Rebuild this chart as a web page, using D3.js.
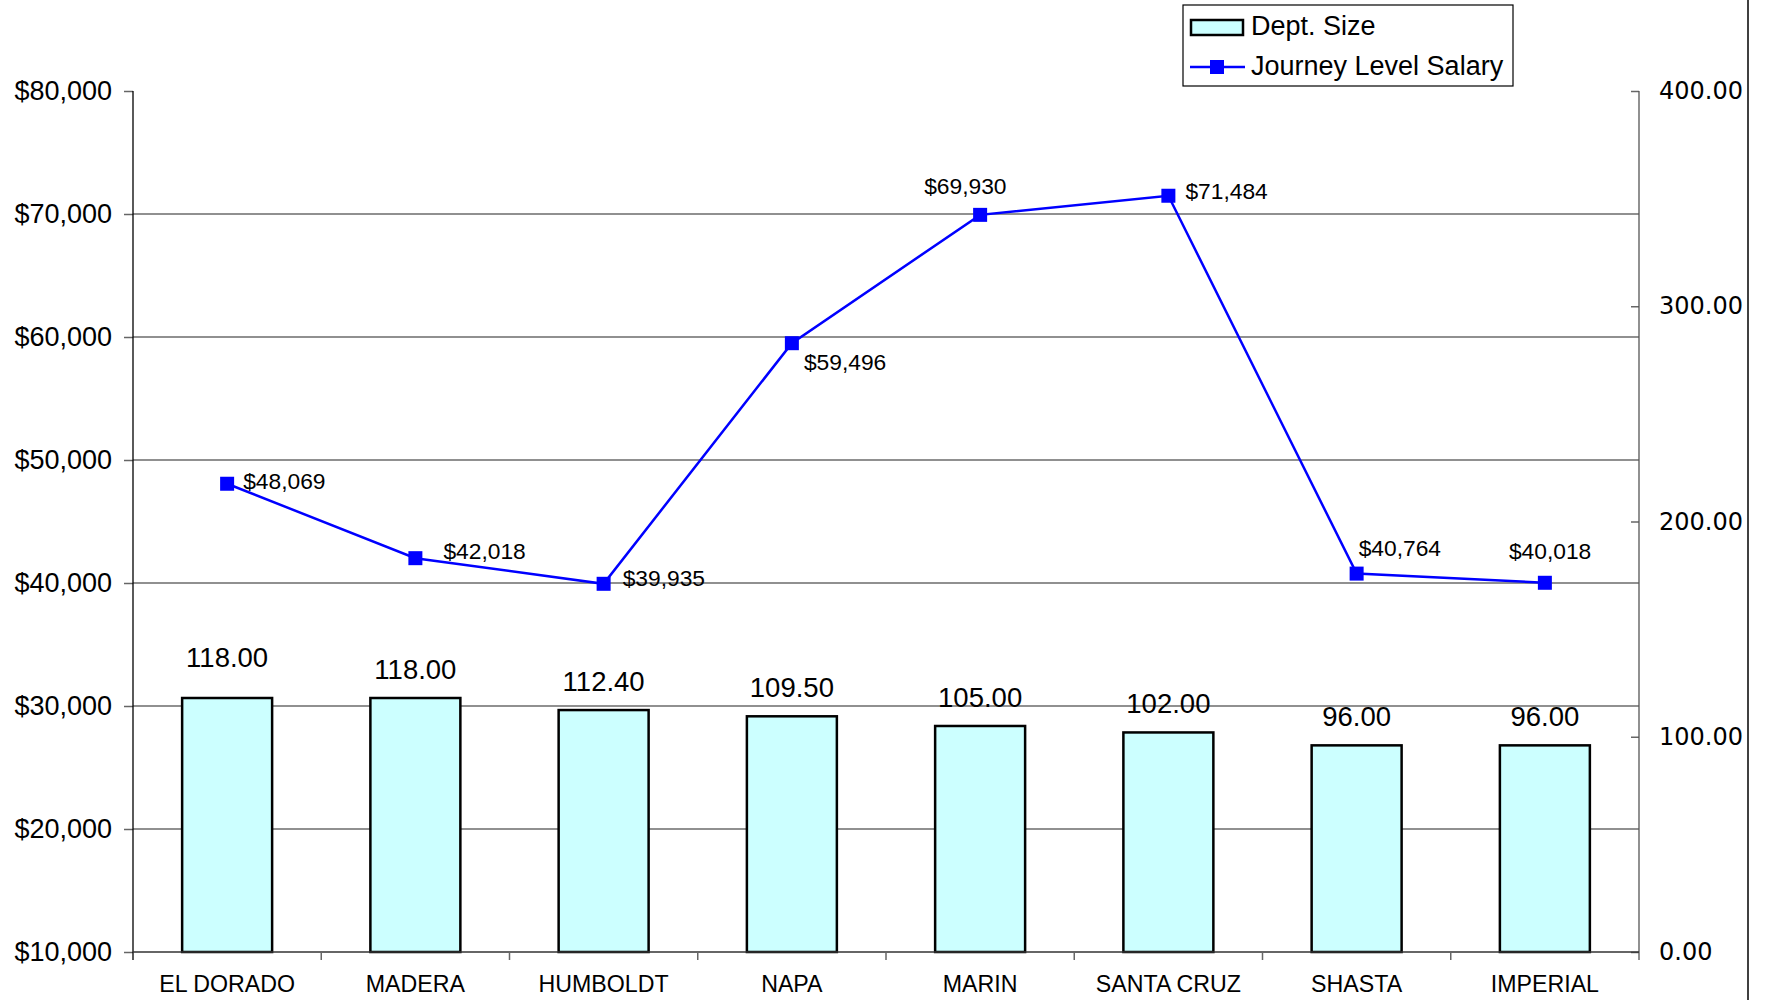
<!DOCTYPE html>
<html>
<head>
<meta charset="utf-8">
<script src="https://cdn.jsdelivr.net/npm/d3@7"></script>
<style>
  html, body { margin: 0; padding: 0; background: #fff; }
  svg { display: block; }
  text { font-family: "Liberation Sans", Arial, sans-serif; fill: #000; }
</style>
</head>
<body>
<svg id="chart" width="1765" height="1000"></svg>
<script>
// ---- data ----
const categories = ["EL DORADO", "MADERA", "HUMBOLDT", "NAPA", "MARIN", "SANTA CRUZ", "SHASTA", "IMPERIAL"];
const deptSize = [118.00, 118.00, 112.40, 109.50, 105.00, 102.00, 96.00, 96.00];
const salary = [48069, 42018, 39935, 59496, 69930, 71484, 40764, 40018];
const salaryTicks = [10000, 20000, 30000, 40000, 50000, 60000, 70000, 80000];
const sizeTicks = [0, 100, 200, 300, 400];
const seriesNames = ["Dept. Size", "Journey Level Salary"];

// ---- layout (label placements, not data) ----
const lineLabelOffsets = [[16, -3], [28, -7], [19, -6], [12, 19], [-56, -29], [17, -5], [2, -26], [-36, -32]];

(function () {
const W = 1765, H = 1000;
const pLeft = 133, pRight = 1639, pTop = 91, pBottom = 952;

const svg = d3.select("#chart");

const x = d3.scaleBand().domain(categories).range([pLeft, pRight]).paddingInner(0.522).paddingOuter(0.261);
const yL = d3.scaleLinear().domain([10000, 80000]).range([pBottom, pTop]);
const yR = d3.scaleLinear().domain([0, 400]).range([pBottom, pTop]);
const step = x.step();

// gridlines
svg.append("g").selectAll("line")
  .data(salaryTicks.filter(d => d > 10000 && d < 80000))
  .join("line")
  .attr("x1", pLeft).attr("x2", pRight)
  .attr("y1", d => yL(d)).attr("y2", d => yL(d))
  .attr("stroke", "#222").attr("stroke-width", 1.2);

// left axis
const gL = svg.append("g").attr("transform", `translate(${pLeft},0)`)
  .call(d3.axisLeft(yL).tickValues(salaryTicks).tickSize(9).tickPadding(12)
    .tickFormat(d => "$" + d3.format(",")(d)));
gL.select(".domain").remove();
gL.selectAll(".tick line").attr("stroke", "#666").attr("stroke-width", 1.5);
gL.selectAll(".tick text").style("font-family", "'Liberation Sans', Arial, sans-serif").style("font-size", "27px").attr("fill", "#000");
svg.append("line").attr("x1", pLeft).attr("x2", pLeft).attr("y1", pTop).attr("y2", pBottom + 8)
  .attr("stroke", "#000").attr("stroke-width", 1.3);

// right axis (ticks pointing inward)
const gR = svg.append("g").attr("transform", `translate(${pRight},0)`)
  .call(d3.axisRight(yR).tickValues(sizeTicks).tickSize(0).tickPadding(20)
    .tickFormat(d3.format(".2f")));
gR.select(".domain").remove();
gR.selectAll(".tick text").style("font-family", "'DejaVu Sans', sans-serif").style("font-size", "24px").attr("fill", "#000");
gR.selectAll(".tick").append("line").attr("x1", -8).attr("x2", 0).attr("stroke", "#666").attr("stroke-width", 1.5);
svg.append("line").attr("x1", pRight).attr("x2", pRight).attr("y1", pTop).attr("y2", pBottom + 8)
  .attr("stroke", "#555").attr("stroke-width", 1.3);

// bars
svg.append("g").selectAll("rect")
  .data(categories)
  .join("rect")
  .attr("x", d => x(d))
  .attr("y", (d, i) => yR(deptSize[i]))
  .attr("width", x.bandwidth())
  .attr("height", (d, i) => pBottom - yR(deptSize[i]))
  .attr("fill", "#CCFFFF").attr("stroke", "#000").attr("stroke-width", 2.5);

// bar labels
svg.append("g").selectAll("text")
  .data(categories)
  .join("text")
  .attr("x", d => x(d) + x.bandwidth() / 2)
  .attr("y", (d, i) => yR(deptSize[i]) - (i === 0 ? 41 : 29))
  .attr("dy", "0.35em")
  .attr("text-anchor", "middle")
  .style("font-size", "27.5px")
  .text((d, i) => d3.format(".2f")(deptSize[i]));

// category axis
svg.append("line").attr("x1", pLeft).attr("x2", pRight).attr("y1", pBottom).attr("y2", pBottom)
  .attr("stroke", "#333").attr("stroke-width", 1.5);
svg.append("g").selectAll("line")
  .data(d3.range(1, categories.length))
  .join("line")
  .attr("x1", i => pLeft + i * step).attr("x2", i => pLeft + i * step)
  .attr("y1", pBottom).attr("y2", pBottom + 8)
  .attr("stroke", "#666").attr("stroke-width", 1.5);
svg.append("g").selectAll("text")
  .data(categories)
  .join("text")
  .attr("x", d => x(d) + x.bandwidth() / 2)
  .attr("y", 984)
  .attr("dy", "0.35em")
  .attr("text-anchor", "middle")
  .style("font-size", "23.2px")
  .text(d => d);

// salary line
const cx = d => x(d) + x.bandwidth() / 2;
const line = d3.line().x(d => cx(d)).y((d, i) => yL(salary[i]));
svg.append("path").datum(categories)
  .attr("d", line)
  .attr("fill", "none").attr("stroke", "#0000FF").attr("stroke-width", 2.5);
const ms = 14;
svg.append("g").selectAll("rect")
  .data(categories)
  .join("rect")
  .attr("x", d => cx(d) - ms / 2)
  .attr("y", (d, i) => yL(salary[i]) - ms / 2)
  .attr("width", ms).attr("height", ms)
  .attr("fill", "#0000FF");

// salary labels
svg.append("g").selectAll("text")
  .data(categories)
  .join("text")
  .attr("x", (d, i) => cx(d) + lineLabelOffsets[i][0])
  .attr("y", (d, i) => yL(salary[i]) + lineLabelOffsets[i][1])
  .attr("dy", "0.35em")
  .style("font-size", "22.8px")
  .text((d, i) => "$" + d3.format(",")(salary[i]));

// legend
const lg = svg.append("g");
lg.append("rect").attr("x", 1183).attr("y", 5).attr("width", 330).attr("height", 81)
  .attr("fill", "#fff").attr("stroke", "#000").attr("stroke-width", 1.2);
lg.append("rect").attr("x", 1191).attr("y", 20).attr("width", 52).attr("height", 15)
  .attr("fill", "#CCFFFF").attr("stroke", "#000").attr("stroke-width", 2.5);
lg.append("text").attr("x", 1251).attr("y", 26).attr("dy", "0.35em").style("font-size", "27px").text(seriesNames[0]);
lg.append("line").attr("x1", 1190).attr("x2", 1245).attr("y1", 67).attr("y2", 67)
  .attr("stroke", "#0000FF").attr("stroke-width", 2.5);
lg.append("rect").attr("x", 1217 - ms / 2).attr("y", 67 - ms / 2).attr("width", ms).attr("height", ms).attr("fill", "#0000FF");
lg.append("text").attr("x", 1251).attr("y", 66).attr("dy", "0.35em").style("font-size", "27px").text(seriesNames[1]);

// chart area right border
svg.append("line").attr("x1", 1748).attr("x2", 1748).attr("y1", 0).attr("y2", H)
  .attr("stroke", "#000").attr("stroke-width", 1.5);
})();
</script>
</body>
</html>
